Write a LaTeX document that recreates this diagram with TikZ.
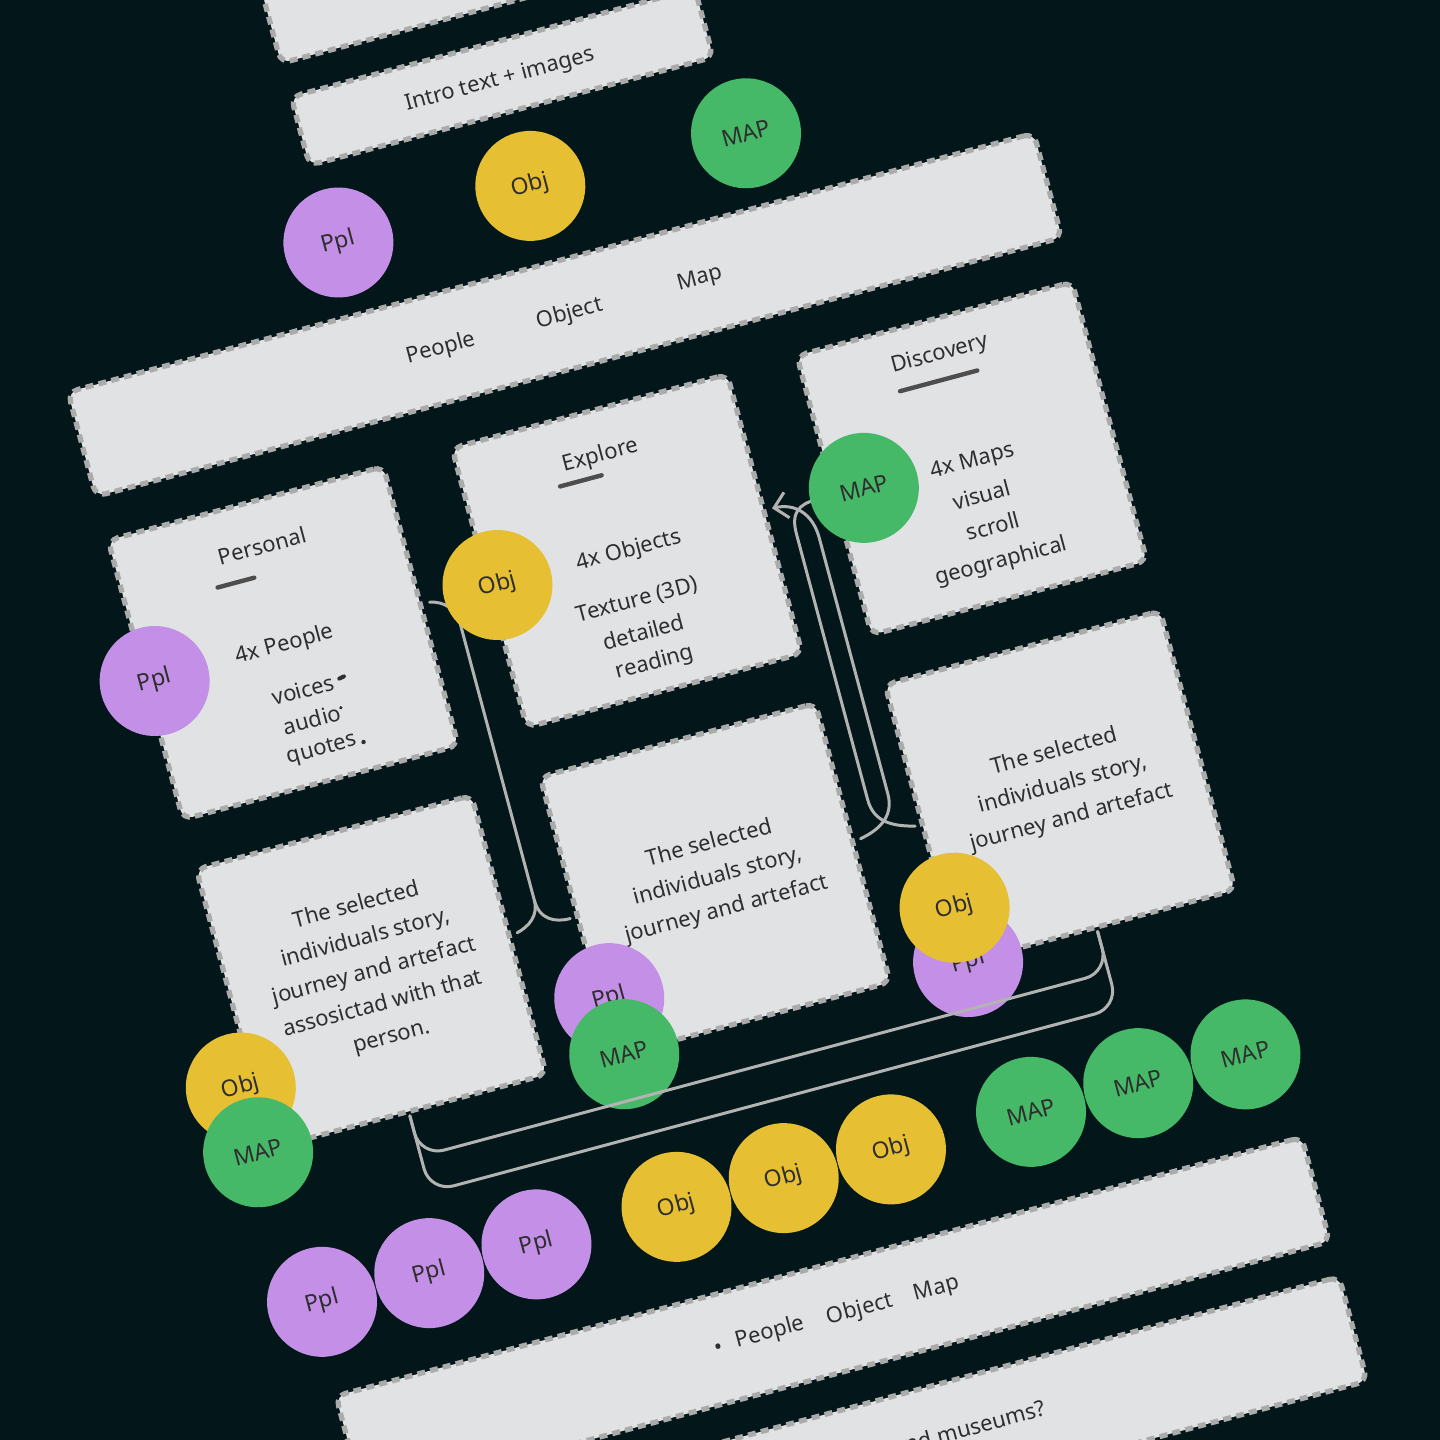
\documentclass[tikz,border=0pt]{standalone}
\usepackage{fontspec}
\setmainfont{Noto Sans}
\usetikzlibrary{arrows.meta}

\definecolor{night}{HTML}{03171A}
\definecolor{paper}{HTML}{E1E2E4}
\definecolor{dashgray}{HTML}{ABABAB}
\definecolor{ink}{HTML}{2E2E2E}
\definecolor{wiregray}{HTML}{B3B3B3}
\definecolor{pplcol}{HTML}{C48FE6}
\definecolor{objcol}{HTML}{E6BF32}
\definecolor{mapcol}{HTML}{45B967}

\tikzset{
  card/.style={draw=dashgray, fill=paper, line width=2.6pt, dash pattern=on 4pt off 2.6pt,
    rounded corners=5pt, inner sep=0pt},
  tile/.style={card, minimum width=142.5pt, minimum height=144.5pt},
  strip/.style={card, minimum width=500pt, minimum height=54pt},
  txt/.style={text=ink, inner sep=0pt, font=\fontsize{11}{17}\selectfont, align=center},
  bubble/.style={circle, minimum size=55pt, inner sep=0pt, text=ink, font=\fontsize{11.5}{13}\selectfont},
  pplb/.style={bubble, fill=pplcol},
  objb/.style={bubble, fill=objcol},
  mapb/.style={bubble, fill=mapcol},
  link/.style={draw=wiregray, line width=1.5pt, line cap=round},
  uline/.style={draw=ink!85, line width=2.2pt, line cap=round}
}

\begin{document}
\begin{tikzpicture}[x=0.5pt, y=-0.5pt]
\useasboundingbox (0,0) rectangle (1440,1440);
\fill[night] (0,0) rectangle (1440,1440);
\clip (0,0) rectangle (1440,1440);
\begin{scope}[shift={(720,720)}, rotate=15, every node/.append style={transform shape}]

%top
\node[card, minimum width=209.5pt, minimum height=66pt] (top) at (-44.5,-814) {};
\node[card, minimum width=209pt, minimum height=35.5pt] (intro) at (-44,-677.5) {};
\node[txt] (introtxt) at (-47,-675) {Intro text + images};

%modes
\node[strip] (modes) at (-45,-431.5) {};
\node[txt] (mpeople) at (-173,-431) {People};
\node[txt] (mobject) at (-40,-431) {Object};
\node[txt] (mmap) at (95,-431) {Map};

%first row
\node[tile] (pers) at (-402,-187.5) {};
\node[tile] (expl) at (-46,-187.5) {};
\node[tile] (disc) at (311,-187.5) {};

\node[txt] (perst) at (-397,-287) {Personal};
\draw[uline] (-451,-258) -- (-413,-258);
\node[txt] (pers1) at (-401,-185) {4x People};
\node[txt] (pers2) at (-395,-137) {voices};
\node[txt] (pers3) at (-394,-106) {audio};
\node[txt] (pers4) at (-392,-74) {quotes};
\draw[ink, line width=2pt, line cap=round] (-357,-138.5) -- (-352,-139.5);
\fill[ink] (-363,-110) circle[radius=0.9pt];
\fill[ink] (-350,-71) circle[radius=1.1pt];

\node[txt] (explt) at (-47,-286) {Explore};
\draw[uline] (-94,-267) -- (-51,-267);
\node[txt] (expl1) at (-44,-187) {4x Objects};
\node[txt] (expl2) at (-49,-137) {Texture (3D)};
\node[txt] (expl3) at (-51,-105) {detailed};
\node[txt] (expl4) at (-48,-72) {reading};

\node[txt] (disct) at (307,-296) {Discovery};
\draw[uline] (259,-271) -- (339,-271);
\node[txt] (disc1) at (311,-184) {4x Maps};
\node[txt] (disc2) at (311,-150) {visual};
\node[txt] (disc3) at (314,-117) {scroll};
\node[txt] (disc4) at (313,-80) {geographical};

%second row
\node[tile] (storyA) at (-402,153) {};
\node[tile] (storyB) at (-46,153) {};
\node[tile] (storyC) at (311,153) {};
\node[txt] (storyAt) at (-399,153.5) {The selected\\individuals story,\\journey and artefact\\assosictad with that\\person.};
\node[txt] (storyBt) at (-42.5,151) {The selected\\individuals story,\\journey and artefact};
\node[txt] (storyCt) at (314.5,151.5) {The selected\\individuals story,\\journey and artefact};

%legend
\node[strip] (legend) at (-46,607.5) {};
\node[txt] (lbul) at (-164,607) {•};
\node[txt] (lpeople) at (-110,605) {People};
\node[txt] (lobject) at (-17.5,606) {Object};
\node[txt] (lmap) at (62,606) {Map};
\node[strip] (museums) at (-46,752) {};
\node[txt, anchor=east] (museumst) at (136,748) {and museums?};

%brace between columns
\coordinate (brTop) at (-250,-189);
\coordinate (brL) at (-251,153);
\coordinate (brR) at (-196,153);
\draw[link] (brTop) .. controls (-236,-186) and (-226,-176) .. (-226,-160) -- (-226,126);
\draw[link] (-226,126) .. controls (-226,142) and (-238,150) .. (brL);
\draw[link] (-226,126) .. controls (-226,146) and (-212,153) .. (brR);

%loop back to explore
\coordinate (hpTip) at (105,-191);
\coordinate (hpL) at (105,151);
\coordinate (hpR) at (161,153);
\coordinate (hpEnd) at (150,-188);
\draw[link, -{Straight Barb[length=6.5pt,width=13pt]}] (hpL) .. controls (122,148) and (143,140) .. (143,115) -- (143,-150) .. controls (143,-176) and (128,-190) .. (hpTip);
\draw[link] (hpR) .. controls (138,147) and (122,138) .. (122,115) -- (122,-160) .. controls (122,-182) and (132,-188) .. (hpEnd);

%circles
\node[pplb] (p0) at (-245,-560) {Ppl};
\node[objb] (o0) at (-45,-565) {Obj};
\node[mapb] (m0) at (177,-560) {MAP};
\node[pplb] (pp) at (-536,-184) {Ppl};
\node[objb] (eo) at (-180,-188) {Obj};
\node[mapb] (dm) at (199,-187) {MAP};
\node[objb] (ao) at (-558,231) {Obj};
\node[mapb] (am) at (-558,298) {MAP};
\node[pplb] (bp) at (-179,240) {Ppl};
\node[mapb] (bm) at (-179,298) {MAP};
\node[pplb] (cp) at (177,298) {Ppl};
\node[objb] (co) at (178,242) {Obj};

\foreach \g/\lab/\col in {0/Ppl/pplcol, 1/Obj/objcol, 2/MAP/mapcol}
  \foreach \k in {0,1,2}
    \node[bubble, fill=\col] (r\g\k) at (-535+367*\g+111*\k, 459) {\lab};

%double bracket
\coordinate (cL) at (-402,302);
\coordinate (cR) at (310,302);
\draw[link, rounded corners=12pt] (cL) -- (-402,344) -- (310,344) -- (cR);
\draw[link, rounded corners=12pt] (cL) -- (-402,381) -- (310,381) -- (cR);

\end{scope}
\end{tikzpicture}
\end{document}
